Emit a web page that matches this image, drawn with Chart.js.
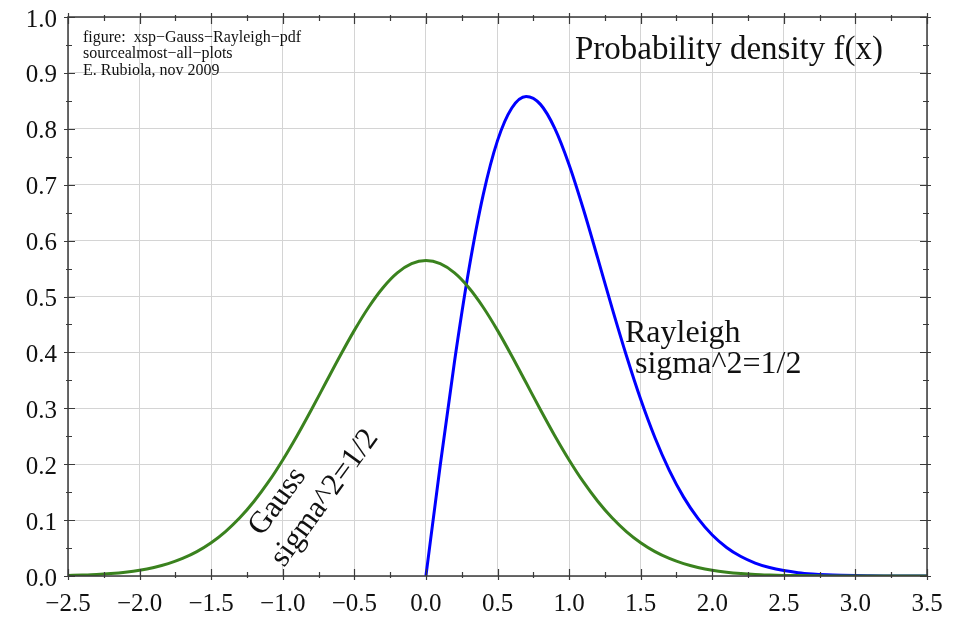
<!DOCTYPE html>
<html>
<head>
<meta charset="utf-8">
<title>Gauss and Rayleigh pdf</title>
<script src="https://cdn.jsdelivr.net/npm/chart.js@4.4.0/dist/chart.umd.min.js"></script>
<style>
  html, body { margin: 0; padding: 0; background: #fff; }
  #wrap { width: 956px; height: 617px; }
</style>
</head>
<body>
<div id="wrap"><canvas id="pdf-chart" width="956" height="617"></canvas></div>
<script>
// x samples, step 0.1
var xs = [-2.5, -2.4, -2.3, -2.2, -2.1, -2.0, -1.9, -1.8, -1.7, -1.6, -1.5, -1.4, -1.3, -1.2, -1.1,
          -1.0, -0.9, -0.8, -0.7, -0.6, -0.5, -0.4, -0.3, -0.2, -0.1, 0.0, 0.1, 0.2, 0.3, 0.4,
          0.5, 0.6, 0.7, 0.8, 0.9, 1.0, 1.1, 1.2, 1.3, 1.4, 1.5, 1.6, 1.7, 1.8, 1.9,
          2.0, 2.1, 2.2, 2.3, 2.4, 2.5, 2.6, 2.7, 2.8, 2.9, 3.0, 3.1, 3.2, 3.3, 3.4, 3.5];

var gauss = [0.0011, 0.0018, 0.0028, 0.0045, 0.0069, 0.0103, 0.0153, 0.0221, 0.0314, 0.0436,
             0.0595, 0.0795, 0.1041, 0.1337, 0.1682, 0.2076, 0.2510, 0.2975, 0.3456, 0.3936,
             0.4394, 0.4808, 0.5156, 0.5421, 0.5586, 0.5642, 0.5586, 0.5421, 0.5156, 0.4808,
             0.4394, 0.3936, 0.3456, 0.2975, 0.2510, 0.2076, 0.1682, 0.1337, 0.1041, 0.0795,
             0.0595, 0.0436, 0.0314, 0.0221, 0.0153, 0.0103, 0.0069, 0.0045, 0.0028, 0.0018,
             0.0011, 0.0007, 0.0004, 0.0002, 0.0001, 0.0001, 0.0, 0.0, 0.0, 0.0, 0.0];

// rayleigh is zero for x < 0, starts at x = 0
var rayleighX = [0.0, 0.1, 0.2, 0.3, 0.4, 0.5, 0.6, 0.7, 0.8, 0.9, 1.0, 1.1, 1.2, 1.3, 1.4,
                 1.5, 1.6, 1.7, 1.8, 1.9, 2.0, 2.1, 2.2, 2.3, 2.4, 2.5, 2.6, 2.7, 2.8, 2.9,
                 3.0, 3.1, 3.2, 3.3, 3.4, 3.5];
var rayleigh = [0.0, 0.198, 0.3843, 0.5483, 0.6817, 0.7788, 0.8372, 0.8577, 0.8437, 0.8008,
                0.7358, 0.6561, 0.5686, 0.4797, 0.3945, 0.3162, 0.2474, 0.1890, 0.1411, 0.1030,
                0.0733, 0.0511, 0.0348, 0.0232, 0.0151, 0.0097, 0.0060, 0.0037, 0.0022, 0.0013,
                0.0007, 0.0004, 0.0002, 0.0001, 0.0001, 0.0];

var xTicks = [-2.5, -2.0, -1.5, -1.0, -0.5, 0.0, 0.5, 1.0, 1.5, 2.0, 2.5, 3.0, 3.5];
var yTicks = [0.0, 0.1, 0.2, 0.3, 0.4, 0.5, 0.6, 0.7, 0.8, 0.9, 1.0];

var serif = '"Liberation Serif", "Times New Roman", serif';

function pts(xv, yv) {
  return xv.map(function(x, i) { return { x: x, y: yv[i] }; });
}

// box around the plot, ticks on all four sides, plus the text notes
var framePlugin = {
  id: 'frame',
  afterDraw: function(chart) {
    var c = chart.ctx, a = chart.chartArea;
    var sx = chart.scales.x, sy = chart.scales.y;
    c.save();
    c.strokeStyle = '#3a3a3a';
    c.lineWidth = 1.5;
    c.strokeRect(a.left, a.top, a.right - a.left, a.bottom - a.top);

    c.lineWidth = 1.2;
    c.beginPath();
    for (var v = -2.5; v <= 3.501; v += 0.25) {
      var px = Math.round(sx.getPixelForValue(v)) + 0.5;
      var major = Math.abs(v * 2 - Math.round(v * 2)) < 1e-6;
      var out = major ? 4 : 2, inn = major ? 7 : 4;
      c.moveTo(px, a.bottom + out); c.lineTo(px, a.bottom - inn);
      c.moveTo(px, a.top - out); c.lineTo(px, a.top + inn);
    }
    for (var k = 0; k <= 20; k++) {
      var py = Math.round(sy.getPixelForValue(k * 0.05)) + 0.5;
      var maj = k % 2 === 0;
      var o = maj ? 4 : 2, n = maj ? 7 : 4;
      c.moveTo(a.left - o, py); c.lineTo(a.left + n, py);
      c.moveTo(a.right + o, py); c.lineTo(a.right - n, py);
    }
    c.stroke();

    c.fillStyle = '#111';
    c.textAlign = 'left';
    c.textBaseline = 'alphabetic';
    c.font = '16px ' + serif;
    c.fillText('figure:  xsp\u2212Gauss\u2212Rayleigh\u2212pdf', 83, 42);
    c.fillText('sourcealmost\u2212all\u2212plots', 83, 58);
    c.fillText('E. Rubiola, nov 2009', 83, 75);

    c.font = '33px ' + serif;
    c.fillText('Probability density f(x)', 575, 59);

    c.font = '32px ' + serif;
    c.fillText('Rayleigh', 625, 342);
    c.fillText('sigma^2=1/2', 635, 373);

    c.font = '31px ' + serif;
    c.save();
    c.translate(262, 537);
    c.rotate(-54 * Math.PI / 180);
    c.fillText('Gauss', 0, 0);
    c.restore();
    c.save();
    c.translate(284, 568);
    c.rotate(-54 * Math.PI / 180);
    c.fillText('sigma^2=1/2', 0, 0);
    c.restore();
    c.restore();
  }
};

var ctx = document.getElementById('pdf-chart').getContext('2d');
var chart = new Chart(ctx, {
  type: 'line',
  data: {
    datasets: [{
      label: 'Gauss',
      data: pts(xs, gauss),
      borderColor: 'rgb(58,130,30)',
      borderWidth: 3,
      pointRadius: 0,
      cubicInterpolationMode: 'monotone',
      fill: false
    }, {
      label: 'Rayleigh',
      data: pts(rayleighX, rayleigh),
      borderColor: 'rgb(0,0,255)',
      borderWidth: 3,
      pointRadius: 0,
      cubicInterpolationMode: 'monotone',
      fill: false
    }]
  },
  options: {
    responsive: false,
    animation: false,
    layout: { padding: { top: 17, right: 29, left: 0, bottom: 0 } },
    plugins: {
      legend: { display: false },
      tooltip: { enabled: false }
    },
    scales: {
      x: {
        type: 'linear',
        min: -2.5,
        max: 3.5,
        afterBuildTicks: function(s) { s.ticks = xTicks.map(function(v) { return { value: v }; }); },
        afterFit: function(s) {
          s.height = 41;
          s.paddingLeft = 0;
          s.paddingRight = 0;
        },
        ticks: {
          color: '#111',
          font: { family: serif, size: 25 },
          padding: 13,
          maxRotation: 0,
          callback: function(v) { return v.toFixed(1).replace('-', '\u2212'); }
        },
        grid: { color: '#d4d4d4', lineWidth: 1, drawTicks: false },
        border: { display: false }
      },
      y: {
        type: 'linear',
        min: 0,
        max: 1.0,
        afterBuildTicks: function(s) { s.ticks = yTicks.map(function(v) { return { value: v }; }); },
        afterFit: function(s) {
          s.width = 68;
          s.paddingTop = 0;
          s.paddingBottom = 0;
        },
        ticks: {
          color: '#111',
          font: { family: serif, size: 25 },
          padding: 11,
          labelOffset: 3,
          callback: function(v) { return v.toFixed(1); }
        },
        grid: { color: '#d4d4d4', lineWidth: 1, drawTicks: false },
        border: { display: false }
      }
    }
  },
  plugins: [framePlugin]
});
</script>
</body>
</html>
